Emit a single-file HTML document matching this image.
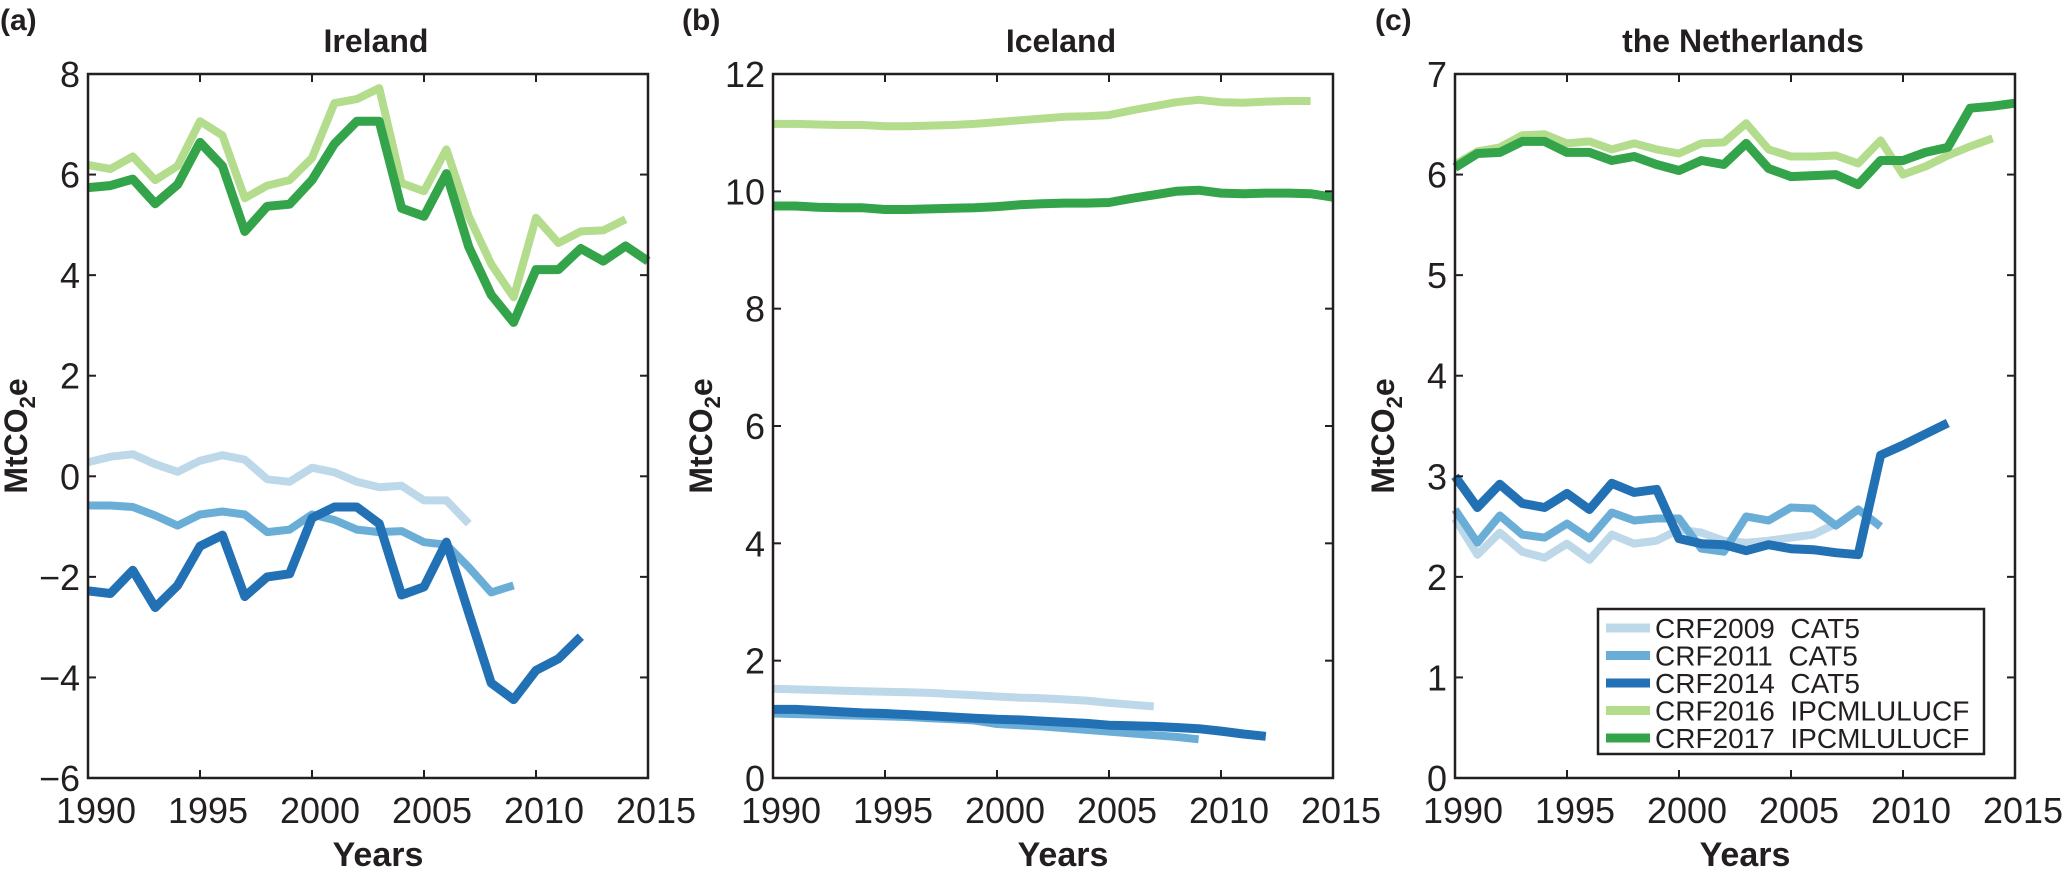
<!DOCTYPE html>
<html><head><meta charset="utf-8"><style>
html,body{margin:0;padding:0;background:#fff;}
svg{display:block;font-family:"Liberation Sans",Arial,sans-serif;}
</style></head><body>
<svg id="fig" width="2067" height="878" viewBox="0 0 2067 878"></svg>
<script>
const years = [1990,1991,1992,1993,1994,1995,1996,1997,1998,1999,2000,2001,2002,2003,2004,2005,2006,2007,2008,2009,2010,2011,2012,2013,2014,2015];
const seriesNames = ["CRF2009  CAT5","CRF2011  CAT5","CRF2014  CAT5","CRF2016  IPCMLULUCF","CRF2017  IPCMLULUCF"];
const colors = ["#bdd8e8","#6aaed8","#2271b5","#b3dc8d","#34a44a"];
const widths = [8,8,9,8,9];
// Ireland
const ieCRF2009 = [0.28,0.39,0.44,0.24,0.09,0.31,0.42,0.33,-0.06,-0.11,0.17,0.08,-0.11,-0.22,-0.19,-0.48,-0.48,-0.94];
const ieCRF2011 = [-0.58,-0.58,-0.61,-0.78,-0.98,-0.76,-0.7,-0.76,-1.11,-1.06,-0.76,-0.87,-1.06,-1.11,-1.09,-1.31,-1.36,-1.81,-2.31,-2.17];
const ieCRF2014 = [-2.28,-2.33,-1.87,-2.61,-2.17,-1.39,-1.17,-2.39,-2.0,-1.94,-0.83,-0.61,-0.61,-0.94,-2.36,-2.2,-1.31,-2.72,-4.11,-4.44,-3.86,-3.63,-3.19];
const ieCRF2016 = [6.19,6.11,6.36,5.89,6.17,7.06,6.78,5.53,5.78,5.89,6.33,7.42,7.5,7.72,5.83,5.67,6.5,5.17,4.22,3.56,5.14,4.64,4.87,4.89,5.11];
const ieCRF2017 = [5.74,5.78,5.91,5.42,5.8,6.64,6.17,4.87,5.37,5.41,5.89,6.61,7.06,7.06,5.33,5.17,6.02,4.56,3.61,3.06,4.11,4.11,4.53,4.28,4.58,4.28];
// Iceland
const isCRF2009 = [1.52,1.51,1.5,1.49,1.48,1.47,1.46,1.45,1.43,1.41,1.39,1.37,1.36,1.34,1.32,1.28,1.25,1.22];
const isCRF2011 = [1.1,1.09,1.08,1.07,1.06,1.05,1.04,1.02,1.0,0.98,0.92,0.9,0.88,0.85,0.82,0.79,0.76,0.73,0.7,0.66];
const isCRF2014 = [1.17,1.17,1.15,1.13,1.11,1.1,1.08,1.06,1.04,1.02,1.0,0.99,0.97,0.95,0.93,0.9,0.89,0.88,0.86,0.84,0.8,0.75,0.71];
const isCRF2016 = [11.15,11.15,11.14,11.13,11.13,11.11,11.11,11.12,11.13,11.15,11.18,11.21,11.24,11.27,11.28,11.3,11.38,11.45,11.52,11.56,11.52,11.51,11.53,11.54,11.54];
const isCRF2017 = [9.75,9.75,9.73,9.72,9.72,9.69,9.69,9.7,9.71,9.72,9.74,9.77,9.79,9.8,9.8,9.81,9.88,9.94,10.0,10.02,9.97,9.96,9.97,9.97,9.96,9.9];
// Netherlands
const nlCRF2009 = [2.58,2.22,2.44,2.25,2.19,2.33,2.17,2.42,2.33,2.36,2.47,2.44,2.36,2.34,2.36,2.39,2.42,2.53];
const nlCRF2011 = [2.67,2.34,2.61,2.42,2.39,2.53,2.38,2.64,2.56,2.58,2.58,2.28,2.25,2.6,2.56,2.69,2.68,2.51,2.67,2.5];
const nlCRF2014 = [3.0,2.69,2.92,2.73,2.69,2.83,2.67,2.93,2.84,2.87,2.38,2.33,2.32,2.26,2.32,2.28,2.27,2.24,2.22,3.21,3.31,3.42,3.53];
const nlCRF2016 = [6.1,6.23,6.27,6.39,6.4,6.31,6.33,6.25,6.31,6.25,6.21,6.31,6.32,6.51,6.25,6.18,6.18,6.19,6.11,6.34,6.0,6.08,6.19,6.28,6.36];
const nlCRF2017 = [6.07,6.21,6.22,6.33,6.33,6.22,6.22,6.14,6.18,6.1,6.04,6.14,6.1,6.31,6.06,5.98,5.99,6.0,5.9,6.14,6.14,6.22,6.27,6.66,6.68,6.71];
const xTicks = [1990,1995,2000,2005,2010,2015];
const ieYTicks = [-6,-4,-2,0,2,4,6,8];
const isYTicks = [0,2,4,6,8,10,12];
const nlYTicks = [0,1,2,3,4,5,6,7];

const NS="http://www.w3.org/2000/svg";
const svg=document.getElementById('fig');
function el(tag,attrs,parent){const e=document.createElementNS(NS,tag);for(const k in attrs)e.setAttribute(k,attrs[k]);(parent||svg).appendChild(e);return e;}

const panels=[
 {key:"ireland",letter:"(a)",title:"Ireland",left:88,ymin:-6,ymax:8,ticks:ieYTicks,data:[ieCRF2009,ieCRF2011,ieCRF2014,ieCRF2016,ieCRF2017],letterX:0},
 {key:"iceland",letter:"(b)",title:"Iceland",left:773,ymin:0,ymax:12,ticks:isYTicks,data:[isCRF2009,isCRF2011,isCRF2014,isCRF2016,isCRF2017],letterX:682},
 {key:"netherlands",letter:"(c)",title:"the Netherlands",left:1455,ymin:0,ymax:7,ticks:nlYTicks,data:[nlCRF2009,nlCRF2011,nlCRF2014,nlCRF2016,nlCRF2017],letterX:1375,legend:true}
];
const T0=74,H=704,W=560;
panels.forEach(p=>{
 const g=el('g',{});
 
 
 const xs=v=>p.left+(v-1990)/25*W;
 const ys=v=>T0+(p.ymax-v)/(p.ymax-p.ymin)*H;
 const lt=el('text',{x:p.letterX,y:30,'font-size':30,'font-weight':'bold',fill:'#231f20'},g);lt.textContent=p.letter;
 
 
 const tt=el('text',{x:p.left+W/2+8,y:52,'font-size':32,'font-weight':'bold','text-anchor':'middle',fill:'#231f20'},g);tt.textContent=p.title;
 
 
 p.data.forEach((arr,i)=>{
  const pts=arr.map((v,j)=>xs(years[j]).toFixed(1)+','+ys(v).toFixed(1)).join(' ');
  const pl=el('polyline',{points:pts,fill:'none',stroke:colors[i],'stroke-width':widths[i],'stroke-linejoin':'round'},g);
  
  
 });
 const fr=el('rect',{x:p.left,y:T0,width:W,height:H,fill:'none',stroke:'#231f20','stroke-width':2.5},g);
 
 
 xTicks.forEach(t=>{
  const x=xs(t);
  el('line',{x1:x,y1:T0+H,x2:x,y2:T0+H-8,stroke:'#231f20','stroke-width':2},g);
  el('line',{x1:x,y1:T0,x2:x,y2:T0+8,stroke:'#231f20','stroke-width':2},g);
  const tx=el('text',{x:x+8,y:T0+H+45,'font-size':36,'text-anchor':'middle',fill:'#231f20'},g);tx.textContent=t;
  
  
 });
 p.ticks.forEach(t=>{
  const y=ys(t);
  el('line',{x1:p.left,y1:y,x2:p.left+8,y2:y,stroke:'#231f20','stroke-width':2},g);
  el('line',{x1:p.left+W,y1:y,x2:p.left+W-8,y2:y,stroke:'#231f20','stroke-width':2},g);
  const ty=el('text',{x:p.left-8,y:y+13,'font-size':36,'text-anchor':'end',fill:'#231f20'},g);ty.textContent=(t<0?'\u2212'+(-t):t);
  
  
 });
 const xl=el('text',{x:p.left+W/2+10,y:866,'font-size':34,'font-weight':'bold','text-anchor':'middle',fill:'#231f20'},g);xl.textContent='Years';
 
 
 const yl=el('text',{transform:`translate(${p.left-61},${T0+H/2+10}) rotate(-90)`,'font-size':32,'font-weight':'bold','text-anchor':'middle',fill:'#231f20'},g);
 yl.innerHTML='MtCO<tspan font-size="22" dy="8">2</tspan><tspan dy="-8">e</tspan>';
 
 
 if(p.legend){
  const lg=el('g',{},g);
  
  
  el('rect',{x:1598,y:609,width:386,height:145,fill:'#fff',stroke:'#231f20','stroke-width':2.5},lg);
  seriesNames.forEach((n,i)=>{
   const y=628+i*27.5;
   const e=el('g',{},lg);
   
   
   el('line',{x1:1606,y1:y,x2:1650,y2:y,stroke:colors[i],'stroke-width':9},e);
   const t=el('text',{x:1655,y:y+10,'font-size':28,fill:'#231f20'},e);
   t.setAttribute('style','white-space:pre');
   t.textContent=n;
  });
 }
});
</script>
</body></html>
